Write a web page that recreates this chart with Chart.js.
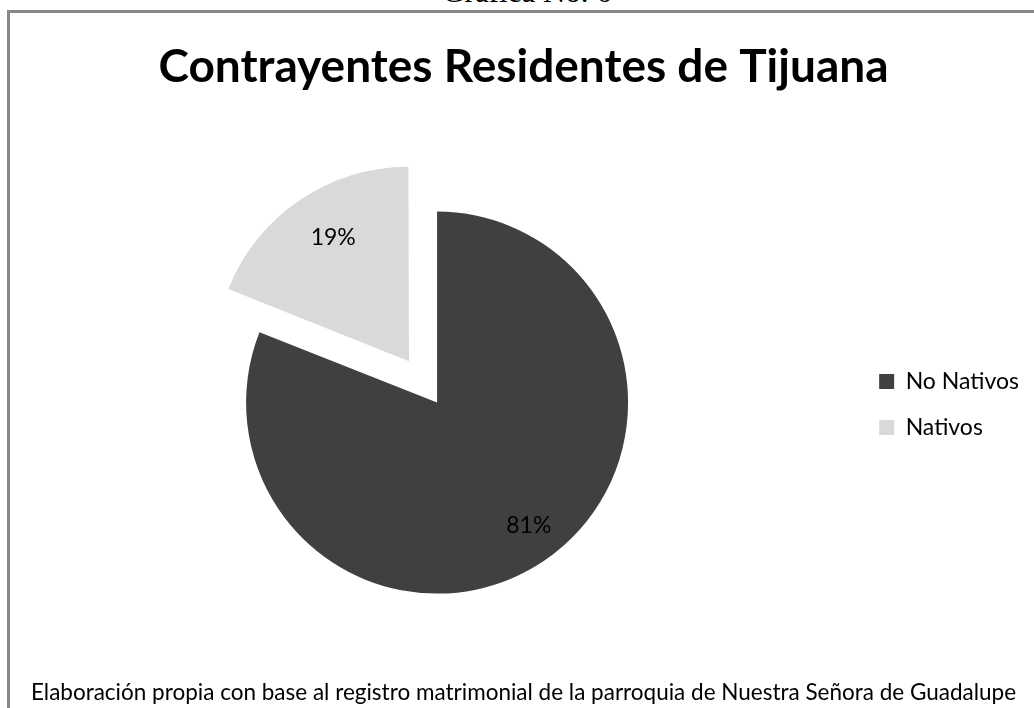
<!DOCTYPE html>
<html lang="es">
<head>
    <meta charset="UTF-8">
    <title>Contrayentes Residentes de Tijuana</title>
    <script src="https://cdn.jsdelivr.net/npm/chart.js"></script>
    <style>
        body { margin: 0; background: #fff; overflow: hidden; width: 1034px; height: 708px; position: relative; }
        .caption {
            position: absolute; left: 0; width: 1054px; text-align: center;
            top: -26px; font: 31px "Liberation Serif", "Times New Roman", serif; color: #000;
        }
        .frame {
            position: absolute; left: 7px; top: 10px; width: 1100px; height: 800px;
            border: 3px solid #888; box-sizing: border-box;
        }
        #chart { position: absolute; left: 10px; top: 13px; }
    </style>
</head>
<body>
    <div class="caption">Gráfica No. 6</div>
    <div class="frame"></div>
    <canvas id="chart" width="1024" height="695"></canvas>

    <script>
        const labels = ['No Nativos', 'Nativos'];
        const values = [81, 19];
        const colors = ['#404040', '#d9d9d9'];
        const explode = [0, 50]; // px the slice is pulled out

        const chartTitle = 'Contrayentes Residentes de Tijuana';
        const sourceNote = 'Elaboración propia con base al registro matrimonial de la parroquia de Nuestra Señora de Guadalupe';

        // percentage labels inside each slice
        const pctLabels = {
            id: 'pctLabels',
            afterDatasetsDraw(chart) {
                const ctx = chart.ctx;
                const meta = chart.getDatasetMeta(0);
                const total = values.reduce((a, b) => a + b, 0);
                ctx.save();
                ctx.font = '23px Lato';
                ctx.fillStyle = '#000';
                ctx.textAlign = 'center';
                ctx.textBaseline = 'middle';
                meta.data.forEach((arc, i) => {
                    const p = arc.getProps(['x', 'y', 'startAngle', 'endAngle', 'outerRadius'], true);
                    const mid = (p.startAngle + p.endAngle) / 2;
                    const r = explode[i] + p.outerRadius * 0.78;
                    const txt = Math.round(values[i] / total * 100) + '%';
                    // small nudge right, excel puts them a bit off-centre
                    ctx.fillText(txt, p.x + Math.cos(mid) * r + 8, p.y + Math.sin(mid) * r);
                });
                ctx.restore();
            }
        };

        new Chart(document.getElementById('chart'), {
            type: 'pie',
            data: {
                labels: labels,
                datasets: [{
                    data: values,
                    backgroundColor: colors,
                    borderWidth: 0,
                    // chart.js draws offset / 4
                    offset: explode.map(v => v * 4)
                }]
            },
            options: {
                responsive: false,
                animation: false,
                radius: 191,
                layout: { padding: { left: 8, right: 5 } },
                plugins: {
                    title: {
                        display: true,
                        text: chartTitle,
                        color: '#000',
                        font: { family: 'Lato', size: 46, weight: 'bold' },
                        padding: { top: 27, bottom: 41 }
                    },
                    subtitle: {
                        display: true,
                        position: 'bottom',
                        text: sourceNote,
                        color: '#000',
                        font: { family: 'Lato', size: 22.5 },
                        padding: { top: 10, bottom: 2 }
                    },
                    legend: {
                        position: 'right',
                        title: {
                            display: true,
                            text: ' ',
                            font: { size: 10 },
                            padding: { top: 76, bottom: 0 }
                        },
                        labels: {
                            color: '#000',
                            font: { family: 'Lato', size: 23 },
                            boxWidth: 15,
                            boxHeight: 15,
                            padding: 23
                        }
                    },
                    tooltip: { enabled: false }
                }
            },
            plugins: [pctLabels]
        });
    </script>
</body>
</html>
